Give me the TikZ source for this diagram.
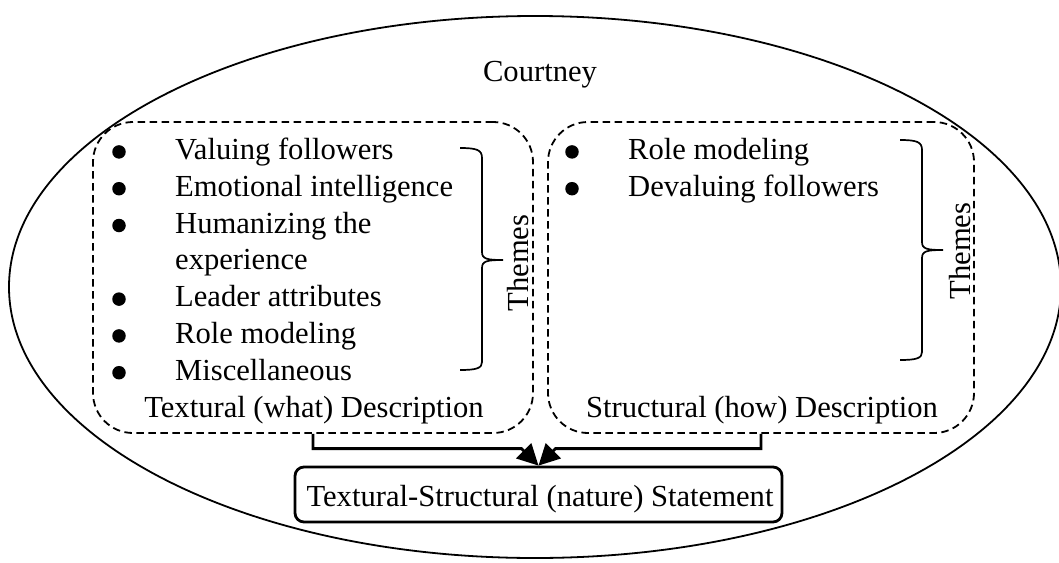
\documentclass[tikz,border=0pt]{standalone}
\usepackage{fontspec}
\setmainfont{Liberation Serif}
\usetikzlibrary{shapes.geometric,arrows.meta,calc}
\begin{document}
\begin{tikzpicture}[x=1pt,y=-1pt,
  every node/.style={font=\fontsize{30.6}{36.8}\selectfont, inner sep=0pt},
  outerring/.style={draw, ellipse, line width=1.8pt, minimum width=1052pt, minimum height=542pt},
  dbox/.style={draw, dash pattern=on 7.5pt off 4.5pt, line width=1.8pt, rounded corners=40pt},
  sbox/.style={draw, line width=2.8pt, rounded corners=9pt, minimum width=487pt, minimum height=55pt},
  item/.style={anchor=base west},
  dot/.style={circle, fill=black, minimum size=13.5pt},
  conn/.style={line width=2.8pt, -{Triangle[length=21pt,width=21pt]}},
  bracepath/.style={line width=1.7pt},
  themes/.style={rotate=90}
]
\useasboundingbox (0,0) rectangle (1059,562);

% outer frame for the participant
\node[outerring] (outer) at (535,287) {};
\node[anchor=base] (name) at (540,81) {Courtney};

% the two description panels
\node[dbox, minimum width=440pt, minimum height=311pt] (txt) at (313,277.5) {};
\node[dbox, minimum width=426pt, minimum height=311pt] (str) at (761,277.5) {};

% textural themes
\node[dot] (b1) at (119,151.9) {};
\node[dot] (b2) at (119,188.7) {};
\node[dot] (b3) at (119,225.5) {};
\node[dot] (b4) at (119,299.1) {};
\node[dot] (b5) at (119,335.9) {};
\node[dot] (b6) at (119,372.7) {};
\node[item] (t1) at (175,159.5) {Valuing followers};
\node[item] (t2) at (175,196.3) {Emotional intelligence};
\node[item] (t3) at (175,233.1) {Humanizing the};
\node[item] (t3b) at (175,269.9) {experience};
\node[item] (t4) at (175,306.7) {Leader attributes};
\node[item] (t5) at (175,343.5) {Role modeling};
\node[item] (t6) at (175,380.3) {Miscellaneous};
\node[anchor=base] (txtlabel) at (314,417) {Textural (what) Description};

% structural themes
\node[dot] (c1) at (572,151.9) {};
\node[dot] (c2) at (572,188.7) {};
\node[item] (s1) at (628,159.5) {Role modeling};
\node[item] (s2) at (628,196.3) {Devaluing followers};
\node[anchor=base] (strlabel) at (762,417) {Structural (how) Description};

% braces grouping the themes
\draw[bracepath] (460,148) .. controls (477,148) and (482,150) .. (482,158)
  -- (482,252) .. controls (482,259) and (487,260) .. (503,260)
  .. controls (487,260) and (482,261) .. (482,268)
  -- (482,362) .. controls (482,368) and (477,370) .. (460,370);
\node[themes] (th1) at (518,263) {Themes};

\draw[bracepath] (900,140) .. controls (917,140) and (922,142) .. (922,150)
  -- (922,242) .. controls (922,249) and (927,250) .. (943,250)
  .. controls (927,250) and (922,251) .. (922,258)
  -- (922,352) .. controls (922,358) and (917,360) .. (900,360);
\node[themes] (th2) at (960,251) {Themes};

% combined statement
\node[sbox] (stmt) at (538.5,494.5) {};
\node[anchor=base] (stmtlabel) at (540,506.5) {Textural-Structural (nature) Statement};

\draw[conn] (txt.south) |- ($(stmt.north)+(-17,-17)$) -- (stmt.north);
\draw[conn] (str.south) |- ($(stmt.north)+(17,-17)$) -- (stmt.north);
\end{tikzpicture}
\end{document}
